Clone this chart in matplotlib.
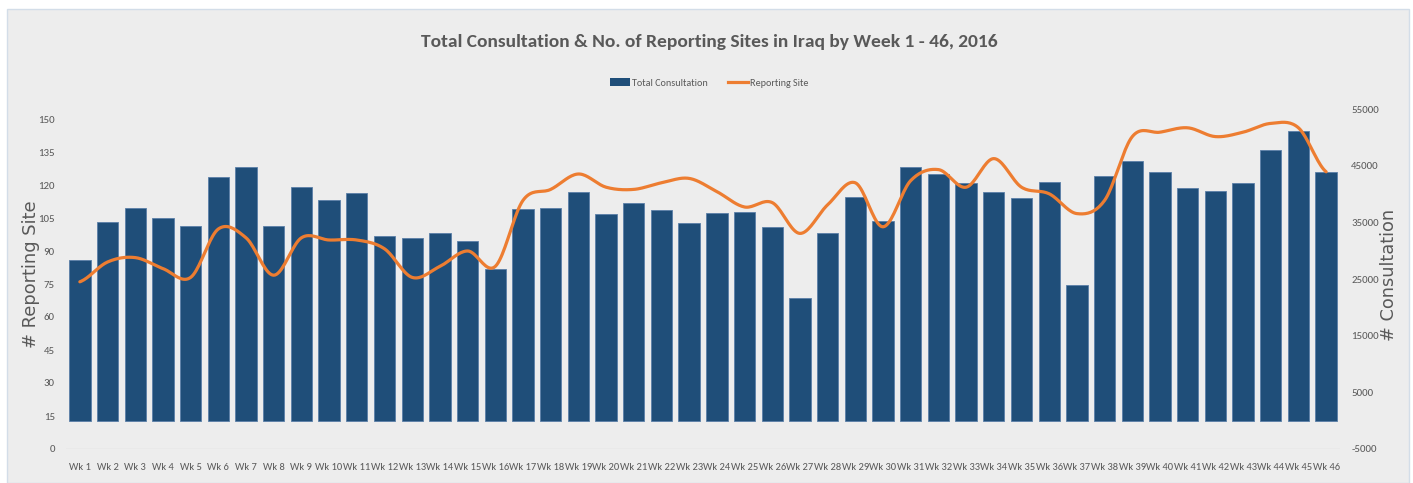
import matplotlib.pyplot as plt
import numpy as np
from matplotlib.patches import Rectangle
from matplotlib.lines import Line2D

# weekly data
weeks = [f"Wk {i}" for i in range(1, 47)]
consultation = [
    28400, 35000, 37600, 35700, 34300, 43000, 44700, 34300, 41200, 39000,
    40200, 32600, 32200, 33200, 31700, 26700, 37400, 37600, 40300, 36500,
    38400, 37200, 34800, 36600, 36900, 34100, 21600, 33100, 39400, 35300,
    44800, 43500, 41900, 40300, 39300, 42100, 23900, 43200, 45900, 43800,
    41000, 40500, 41900, 47800, 51100, 43800,
]
reporting_sites = [
    76, 85, 87, 82, 78, 100, 96, 79, 96, 95,
    95, 91, 78, 83, 90, 83, 113, 118, 125, 119,
    118, 121, 123, 117, 110, 112, 98, 111, 121, 101,
    122, 127, 119, 132, 119, 116, 107, 113, 142, 144,
    146, 142, 144, 148, 146, 126,
]
left_ticks = list(range(0, 151, 15))
right_ticks = list(range(-5000, 55001, 10000))

BAR_COLOR = '#1F4E79'
LINE_COLOR = '#ED7D31'
TEXT_COLOR = '#595959'
NARROW = ['Carlito', 'PT Sans Narrow', 'DejaVu Sans']


def smooth_curve(y, steps=20):
    """Catmull-Rom curve through the points, like Excel's smoothed line."""
    y = np.asarray(y, dtype=float)
    p = np.concatenate([[y[0]], y, [y[-1]]])
    xs, ys = [], []
    t = np.linspace(0, 1, steps, endpoint=False)
    for i in range(len(y) - 1):
        p0, p1, p2, p3 = p[i], p[i + 1], p[i + 2], p[i + 3]
        seg = 0.5 * ((2 * p1) + (-p0 + p2) * t
                     + (2 * p0 - 5 * p1 + 4 * p2 - p3) * t ** 2
                     + (-p0 + 3 * p1 - 3 * p2 + p3) * t ** 3)
        xs.extend(i + t)
        ys.extend(seg)
    xs.append(len(y) - 1)
    ys.append(y[-1])
    return np.array(xs), np.array(ys)


fig = plt.figure(figsize=(14.13, 4.83), dpi=100)
fig.patch.set_facecolor('white')
fig.patches.append(Rectangle((7 / 1413, 0), 1402 / 1413, 474 / 483,
                             transform=fig.transFigure, facecolor='#EDEDED',
                             edgecolor='#D3DDE8', linewidth=1.0, zorder=-1))

ax = fig.add_axes([66 / 1413, 34 / 483, 1274 / 1413, 349 / 483])
ax2 = ax.twinx()

x = np.arange(len(weeks))
ax2.bar(x, consultation, width=0.77, color=BAR_COLOR, edgecolor='#5A7FA8',
        linewidth=0.6)
sx, sy = smooth_curve(reporting_sites)
ax.plot(sx, sy, color=LINE_COLOR, linewidth=2.3, solid_capstyle='round')

# line over the bars
ax.set_zorder(ax2.get_zorder() + 1)
ax.patch.set_visible(False)

ax.set_xlim(-0.5, len(weeks) - 0.5)
ax.set_ylim(0, 150 * 349 / 330)
ax2.set_ylim(-5000, -5000 + 60000 * 349 / 340)
ax.set_yticks(left_ticks)
ax2.set_yticks(right_ticks)
ax2.set_yticklabels([str(v) for v in right_ticks])
ax.set_xticks(x)
ax.set_xticklabels(weeks)

for a in (ax, ax2):
    for s in a.spines.values():
        s.set_visible(False)
    a.tick_params(length=0, colors=TEXT_COLOR, labelsize=7.8)
    for lbl in a.get_xticklabels() + a.get_yticklabels():
        lbl.set_family(NARROW)
ax.axhline(0, color='#D9D9D9', linewidth=1.0, zorder=0)
ax.tick_params(axis='x', pad=10, labelsize=7.6)
ax.tick_params(axis='y', pad=8)
ax2.tick_params(axis='y', pad=8)

ax.set_ylabel('# Reporting Site', fontsize=12.9, color=TEXT_COLOR, labelpad=-1)
ax2.set_ylabel('# Consultation', fontsize=12.8, color=TEXT_COLOR, labelpad=1)

fig.text(0.502, 1 - 42 / 483, 'Total Consultation & No. of Reporting Sites in Iraq by Week 1 - 46, 2016',
         ha='center', va='center', fontsize=14, fontweight='bold',
         color=TEXT_COLOR, family=NARROW)

handles = [Rectangle((0, 0), 1, 1, facecolor=BAR_COLOR),
           Line2D([0], [0], color=LINE_COLOR, linewidth=2.3)]
fig.legend(handles, ['Total Consultation', 'Reporting Site'], loc='center',
           bbox_to_anchor=(0.502, 1 - 83 / 483), ncol=2, frameon=False,
           prop={'family': NARROW, 'size': 7.3}, labelcolor=TEXT_COLOR,
           handlelength=2.0, handleheight=0.7, handletextpad=0.2,
           columnspacing=2.0)

fig.savefig('out.png', dpi=100)
